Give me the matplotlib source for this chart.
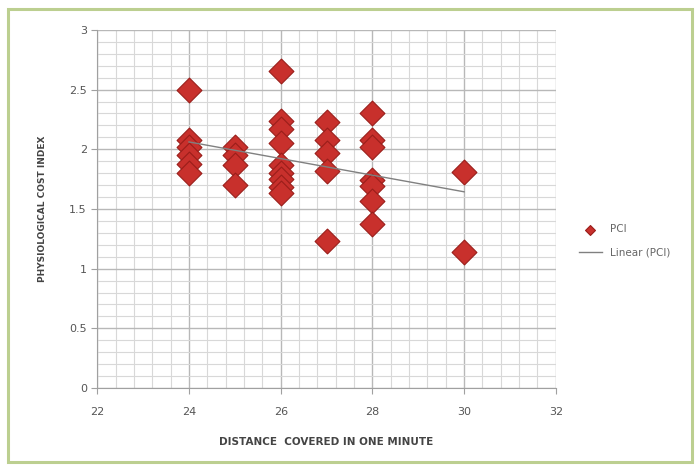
import numpy as np
import matplotlib
matplotlib.use('Agg')
import matplotlib.pyplot as plt
import matplotlib.ticker as ticker
from matplotlib.patches import Rectangle

# distance covered in one minute (x) and PCI values (y)
dist_24 = [2.50, 2.08, 2.02, 1.95, 1.88, 1.80]
dist_25 = [2.02, 1.95, 1.87, 1.70]
dist_26 = [2.66, 2.24, 2.17, 2.05, 1.87, 1.80, 1.75, 1.68, 1.63]
dist_27 = [2.23, 2.08, 1.97, 1.82, 1.23]
dist_28 = [2.30, 2.08, 2.02, 1.74, 1.69, 1.57, 1.37]
dist_30 = [1.81, 1.14]

groups = {24: dist_24, 25: dist_25, 26: dist_26, 27: dist_27, 28: dist_28, 30: dist_30}
x_vals = np.array([k for k, v in groups.items() for _ in v], dtype=float)
y_vals = np.array([y for v in groups.values() for y in v])

fig = plt.figure(figsize=(7, 4.68), dpi=100)
fig.patch.set_facecolor('white')
# green frame around the chart area
fig.patches.append(Rectangle((0.012, 0.012), 0.976, 0.968, transform=fig.transFigure,
                             fill=False, edgecolor='#bccf90', linewidth=2.2))

ax = fig.add_axes([0.139, 0.171, 0.655, 0.765])

ax.scatter(x_vals, y_vals, marker='D', s=160, color='#c8302c',
           edgecolor='#9a1e1a', linewidth=0.8, zorder=3, label='PCI')

# Excel-style linear trendline
slope, intercept = np.polyfit(x_vals, y_vals, 1)
xt = np.array([x_vals.min(), x_vals.max()])
ax.plot(xt, slope * xt + intercept, color='#808080', linewidth=1.0, zorder=4,
        label='Linear (PCI)')

ax.set_xlim(22, 32)
ax.set_ylim(0, 3)
ax.xaxis.set_major_locator(ticker.MultipleLocator(2))
ax.xaxis.set_minor_locator(ticker.MultipleLocator(0.4))
ax.yaxis.set_major_locator(ticker.MultipleLocator(0.5))
ax.yaxis.set_minor_locator(ticker.MultipleLocator(0.1))
ax.yaxis.set_major_formatter(ticker.FuncFormatter(lambda v, p: f'{v:g}'))

ax.grid(which='major', color='#b8b8b8', linewidth=1.0, zorder=0)
ax.grid(which='minor', color='#d8d8d8', linewidth=0.8, zorder=0)
ax.set_axisbelow(True)

for side in ['top', 'right']:
    ax.spines[side].set_visible(False)
for side in ['left', 'bottom']:
    ax.spines[side].set_color('#a0a0a0')

ax.tick_params(which='major', length=4, color='#a0a0a0', labelsize=8, labelcolor='#555555')
ax.tick_params(which='minor', length=0)
ax.tick_params(axis='x', pad=10)

ax.set_xlabel('DISTANCE  COVERED IN ONE MINUTE', fontsize=7.5, fontweight='bold',
              color='#444444', labelpad=14)
ax.set_ylabel('PHYSIOLOGICAL COST INDEX', fontsize=6.5, fontweight='bold',
              color='#444444', labelpad=16)

leg = ax.legend(loc='center left', bbox_to_anchor=(1.03, 0.41), frameon=False,
                fontsize=7.5, markerscale=0.4, handlelength=2.2, labelspacing=1.3)
for t in leg.get_texts():
    t.set_color('#666666')

fig.savefig('out.png', dpi=100)
